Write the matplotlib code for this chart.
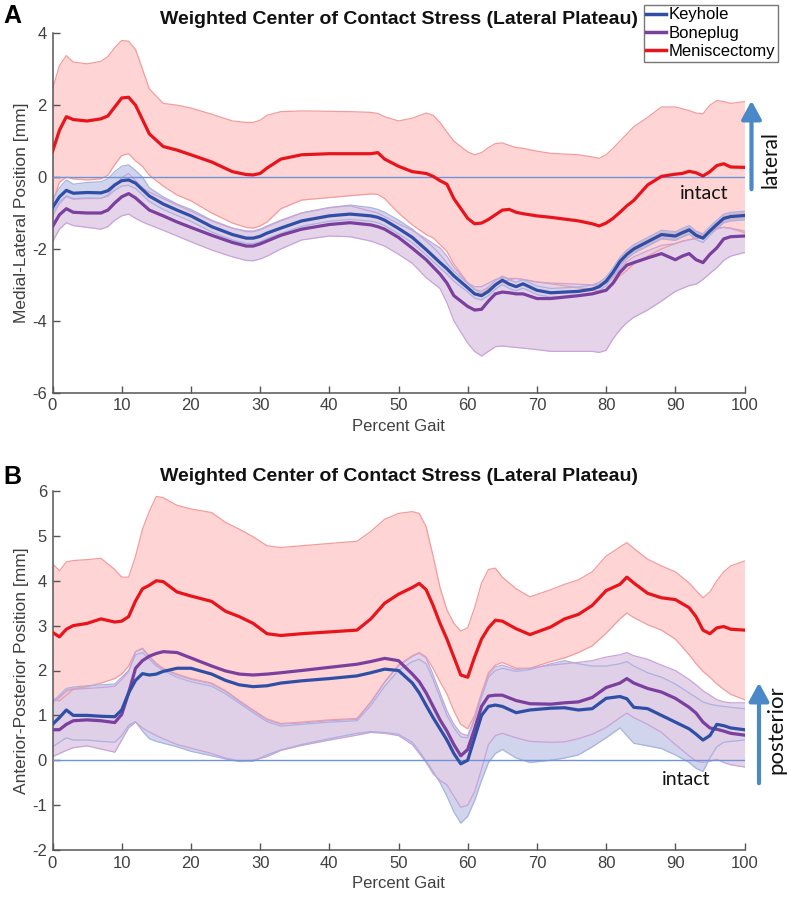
import matplotlib
matplotlib.use("Agg")
import matplotlib.pyplot as plt
from matplotlib.lines import Line2D

plt.rcParams['axes.unicode_minus'] = False
plt.rcParams['font.family'] = ['Liberation Sans', 'DejaVu Sans']

# ---------------- Panel A data (Medial-Lateral) ----------------
xa = [0, 1, 2, 3, 5, 7, 8, 9, 10, 11, 12, 13, 14, 16, 18, 20, 23, 26, 28, 29, 30, 31, 33, 36, 40, 43, 46, 47, 48, 50,
      52, 54, 55, 56, 57, 58, 60, 61, 62, 63, 64, 65, 66, 67, 68, 70, 72, 76, 78, 79, 80, 81, 82, 83, 84, 86, 88, 90,
      91, 92, 93, 94, 95, 96, 97, 98, 100]

a_men_mean = [0.71, 1.3, 1.68, 1.6, 1.56, 1.62, 1.7, 1.95, 2.2, 2.22, 2.0, 1.6, 1.2, 0.85, 0.75, 0.62, 0.42, 0.15, 0.07,
              0.06, 0.1, 0.25, 0.5, 0.62, 0.65, 0.65, 0.65, 0.68, 0.5, 0.3, 0.15, 0.1, 0.02, -0.1, -0.2, -0.6, -1.15,
              -1.3, -1.28, -1.18, -1.05, -0.92, -0.9, -0.98, -1.02, -1.08, -1.12, -1.22, -1.3, -1.36, -1.28, -1.15,
              -0.98, -0.8, -0.65, -0.22, 0.02, 0.08, 0.1, 0.16, 0.12, 0.03, 0.15, 0.32, 0.37, 0.28, 0.27]
a_men_hi = [2.45, 3.1, 3.38, 3.2, 3.15, 3.22, 3.35, 3.6, 3.8, 3.78, 3.55, 3.0, 2.45, 2.05, 2.0, 1.92, 1.75, 1.56, 1.52,
            1.52, 1.58, 1.72, 1.82, 1.84, 1.83, 1.82, 1.8, 1.77, 1.68, 1.56, 1.64, 1.78, 1.72, 1.52, 1.25, 1.0, 0.7,
            0.62, 0.68, 0.82, 0.93, 0.95, 0.88, 0.82, 0.8, 0.72, 0.66, 0.62, 0.56, 0.52, 0.62, 0.8, 1.0, 1.2, 1.4,
            1.66, 1.95, 1.95, 1.9, 1.85, 1.78, 1.76, 2.0, 2.13, 2.1, 2.05, 2.1]
a_men_lo = [-0.7, -0.15, 0.0, -0.05, -0.08, -0.05, 0.05, 0.35, 0.6, 0.65, 0.45, 0.3, 0.05, -0.25, -0.5, -0.66, -1.0,
            -1.28, -1.4, -1.42, -1.36, -1.25, -0.88, -0.64, -0.57, -0.52, -0.47, -0.48, -0.6, -1.0, -1.33, -1.6,
            -1.69, -1.88, -2.07, -2.42, -2.94, -3.12, -3.25, -3.1, -2.98, -2.92, -2.86, -2.82, -2.85, -2.92, -2.97,
            -3.08, -3.14, -3.18, -3.15, -3.0, -2.75, -2.6, -2.42, -2.2, -2.0, -1.85, -1.78, -1.74, -1.7, -1.62, -1.5,
            -1.42, -1.4, -1.43, -1.55]
a_key_mean = [-0.85, -0.55, -0.37, -0.45, -0.43, -0.44, -0.38, -0.22, -0.1, -0.08, -0.17, -0.35, -0.53, -0.75, -0.92,
              -1.08, -1.38, -1.6, -1.7, -1.7, -1.65, -1.56, -1.42, -1.22, -1.08, -1.03, -1.08, -1.12, -1.2, -1.43,
              -1.68, -2.02, -2.2, -2.38, -2.55, -2.75, -3.08, -3.25, -3.3, -3.18, -3.0, -2.87, -2.98, -3.05, -2.97,
              -3.15, -3.22, -3.18, -3.12, -3.05, -2.9, -2.65, -2.35, -2.15, -2.0, -1.8, -1.6, -1.64, -1.55, -1.47,
              -1.62, -1.7, -1.5, -1.32, -1.15, -1.1, -1.07]
a_key_hi = [-0.65, -0.3, -0.08, -0.2, -0.15, -0.13, -0.05, 0.15, 0.3, 0.34, 0.18, 0.0, -0.3, -0.55, -0.75, -0.9, -1.2,
            -1.42, -1.52, -1.52, -1.47, -1.38, -1.22, -1.0, -0.85, -0.78, -0.85, -0.9, -0.98, -1.2, -1.45, -1.78,
            -1.95, -2.15, -2.4, -2.62, -2.96, -3.13, -3.18, -3.06, -2.88, -2.75, -2.86, -2.93, -2.85, -3.03, -3.1,
            -3.06, -3.0, -2.93, -2.78, -2.53, -2.23, -2.03, -1.88, -1.68, -1.48, -1.52, -1.43, -1.35, -1.5, -1.58,
            -1.38, -1.2, -1.03, -0.98, -0.95]
a_key_lo = [-1.0, -0.7, -0.52, -0.6, -0.58, -0.59, -0.53, -0.37, -0.25, -0.23, -0.32, -0.5, -0.68, -0.9, -1.07, -1.23,
            -1.53, -1.75, -1.85, -1.85, -1.8, -1.71, -1.57, -1.37, -1.23, -1.18, -1.23, -1.27, -1.35, -1.58, -1.83,
            -2.17, -2.35, -2.53, -2.7, -2.9, -3.2, -3.37, -3.42, -3.3, -3.12, -2.99, -3.1, -3.17, -3.09, -3.27,
            -3.34, -3.3, -3.24, -3.17, -3.02, -2.77, -2.47, -2.27, -2.12, -1.92, -1.72, -1.76, -1.67, -1.59, -1.74,
            -1.82, -1.62, -1.44, -1.27, -1.22, -1.19]
a_bon_mean = [-1.38, -1.05, -0.88, -0.98, -1.0, -1.0, -0.92, -0.72, -0.55, -0.46, -0.58, -0.75, -0.92, -1.08, -1.25,
              -1.4, -1.62, -1.82, -1.92, -1.92, -1.86, -1.78, -1.62, -1.45, -1.32, -1.27, -1.33, -1.38, -1.45, -1.68,
              -1.98, -2.3, -2.5, -2.7, -2.95, -3.3, -3.6, -3.7, -3.68, -3.45, -3.25, -3.2, -3.22, -3.25, -3.25,
              -3.38, -3.38, -3.3, -3.25, -3.2, -3.15, -2.95, -2.65, -2.45, -2.38, -2.25, -2.13, -2.3, -2.2, -2.13,
              -2.3, -2.38, -2.15, -1.97, -1.72, -1.66, -1.64]
a_bon_hi = [-1.1, -0.75, -0.55, -0.62, -0.6, -0.6, -0.5, -0.25, -0.02, 0.1, -0.1, -0.3, -0.42, -0.6, -0.78, -0.95,
            -1.22, -1.42, -1.5, -1.5, -1.45, -1.36, -1.2, -1.0, -0.85, -0.8, -0.95, -1.0, -1.1, -1.3, -1.48, -1.72,
            -1.85, -1.97, -2.2, -2.5, -2.95, -3.05, -3.05, -2.95, -2.85, -2.8, -2.82, -2.82, -2.85, -2.92, -2.95,
            -2.98, -3.0, -3.0, -2.95, -2.8, -2.55, -2.35, -2.22, -2.05, -1.9, -1.85, -1.8, -1.75, -1.72, -1.68,
            -1.55, -1.45, -1.4, -1.42, -1.5]
a_bon_lo = [-1.8, -1.45, -1.27, -1.35, -1.4, -1.45, -1.38, -1.2, -1.08, -1.03, -1.15, -1.25, -1.33, -1.48, -1.64,
            -1.8, -2.03, -2.22, -2.32, -2.33, -2.28, -2.2, -2.0, -1.75, -1.64, -1.66, -1.78, -1.85, -1.92, -2.15,
            -2.4, -2.8, -2.95, -3.1, -3.5, -4.0, -4.62, -4.85, -4.98, -4.85, -4.72, -4.7, -4.72, -4.74, -4.76,
            -4.8, -4.85, -4.85, -4.85, -4.88, -4.82, -4.5, -4.25, -4.05, -3.9, -3.7, -3.45, -3.18, -3.1, -3.02,
            -2.98, -2.85, -2.68, -2.52, -2.32, -2.2, -2.1]

# ---------------- Panel B data (Anterior-Posterior) ----------------
xb = [0, 1, 2, 3, 5, 7, 9, 10, 11, 12, 13, 14, 15, 16, 18, 20, 23, 25, 27, 29, 31, 33, 36, 40, 44, 46, 48, 50, 52,
      53, 54, 55, 56, 57, 58, 59, 60, 61, 62, 63, 64, 65, 67, 69, 72, 74, 76, 78, 80, 82, 83, 84, 86, 88, 90, 92,
      93, 94, 95, 96, 97, 98, 100]

b_men_mean = [2.85, 2.75, 2.92, 3.0, 3.05, 3.15, 3.08, 3.1, 3.2, 3.55, 3.82, 3.9, 4.0, 3.98, 3.75, 3.66, 3.54, 3.32,
              3.2, 3.05, 2.82, 2.78, 2.82, 2.86, 2.9, 3.15, 3.5, 3.7, 3.85, 3.94, 3.8, 3.45, 3.05, 2.7, 2.3, 1.9,
              1.85, 2.3, 2.7, 2.95, 3.12, 3.1, 2.93, 2.8, 2.97, 3.15, 3.25, 3.45, 3.78, 3.92, 4.08, 3.95, 3.72,
              3.62, 3.58, 3.4, 3.2, 2.9, 2.82, 2.95, 2.98, 2.92, 2.9]
b_men_hi = [4.38, 4.22, 4.42, 4.45, 4.47, 4.5, 4.25, 4.08, 4.08, 4.55, 5.15, 5.55, 5.88, 5.85, 5.68, 5.6, 5.52, 5.3,
            5.15, 4.98, 4.78, 4.74, 4.78, 4.83, 4.88, 5.1, 5.37, 5.5, 5.54, 5.5, 5.2, 4.55, 3.85, 3.35, 3.05, 2.88,
            2.95, 3.4, 3.95, 4.25, 4.28, 4.08, 3.82, 3.64, 3.8, 3.92, 4.02, 4.2, 4.55, 4.75, 4.85, 4.72, 4.48,
            4.33, 4.2, 3.95, 3.78, 3.62, 3.75, 4.0, 4.2, 4.33, 4.44]
b_men_lo = [1.38, 1.32, 1.45, 1.58, 1.64, 1.72, 1.82, 1.92, 2.1, 2.42, 2.5, 2.32, 2.16, 2.05, 1.92, 1.82, 1.72, 1.55,
            1.33, 1.12, 0.92, 0.82, 0.85, 0.9, 0.93, 1.3, 1.75, 2.12, 2.33, 2.4, 2.3, 2.05, 1.75, 1.48, 1.1, 0.8,
            0.7, 1.0, 1.5, 1.95, 2.12, 2.18, 2.05, 2.05, 2.2, 2.28, 2.4, 2.55, 2.83, 3.15, 3.28, 3.18, 3.02, 2.9,
            2.7, 2.35, 2.15, 1.98, 1.85, 1.7, 1.58, 1.47, 1.35]
b_key_mean = [0.8, 0.95, 1.12, 1.0, 1.0, 0.98, 0.97, 1.12, 1.5, 1.78, 1.93, 1.9, 1.92, 1.98, 2.05, 2.05, 1.92, 1.78,
              1.68, 1.64, 1.66, 1.72, 1.77, 1.82, 1.88, 1.95, 2.03, 2.0, 1.72, 1.5, 1.22, 0.95, 0.7, 0.45, 0.15,
              -0.08, 0.0, 0.5, 1.0, 1.2, 1.23, 1.2, 1.06, 1.12, 1.16, 1.17, 1.12, 1.15, 1.38, 1.42, 1.37, 1.18,
              1.15, 1.0, 0.85, 0.7, 0.58, 0.45, 0.55, 0.8, 0.77, 0.72, 0.68]
b_key_hi = [1.3, 1.45, 1.6, 1.63, 1.66, 1.68, 1.7, 1.85, 2.0, 2.35, 2.4, 2.25, 2.1, 2.0, 1.85, 1.75, 1.65, 1.48, 1.27,
            1.06, 0.86, 0.76, 0.8, 0.85, 0.88, 1.22, 1.65, 2.0, 2.2, 2.25, 2.15, 1.8, 1.4, 1.0, 0.72, 0.52, 0.5,
            0.9, 1.4, 1.85, 2.0, 2.05, 1.98, 2.02, 2.15, 2.22, 2.15, 2.1, 2.1, 2.15, 2.2, 2.1, 1.95, 1.85, 1.7,
            1.5, 1.4, 1.3, 1.25, 1.22, 1.2, 1.18, 1.15]
b_key_lo = [0.3, 0.4, 0.5, 0.45, 0.45, 0.42, 0.4, 0.55, 0.78, 0.86, 0.65, 0.48, 0.42, 0.38, 0.3, 0.2, 0.1, 0.03,
            -0.03, -0.02, 0.12, 0.23, 0.35, 0.48, 0.6, 0.64, 0.62, 0.58, 0.4, 0.2, -0.02, -0.25, -0.5, -0.8, -1.15,
            -1.4, -1.25, -0.9, -0.45, -0.05, 0.15, 0.24, 0.05, -0.05, 0.0, 0.05, 0.12, 0.3, 0.5, 0.72, 0.55, 0.38,
            0.32, 0.26, 0.12, -0.05, -0.18, -0.25, 0.05, 0.3, 0.4, 0.42, 0.45]
b_bon_mean = [0.68, 0.68, 0.8, 0.88, 0.9, 0.88, 0.84, 1.02, 1.5, 2.05, 2.22, 2.32, 2.38, 2.42, 2.4, 2.28, 2.1, 1.99,
              1.92, 1.9, 1.92, 1.95, 2.0, 2.07, 2.14, 2.2, 2.27, 2.22, 1.92, 1.75, 1.5, 1.2, 0.9, 0.65, 0.35, 0.1,
              0.24, 0.7, 1.2, 1.43, 1.45, 1.45, 1.33, 1.26, 1.25, 1.28, 1.3, 1.4, 1.62, 1.72, 1.82, 1.72, 1.6,
              1.52, 1.38, 1.18, 1.05, 0.85, 0.72, 0.69, 0.65, 0.6, 0.56]
b_bon_hi = [1.28, 1.4, 1.55, 1.58, 1.6, 1.62, 1.65, 1.8, 1.98, 2.42, 2.48, 2.3, 2.14, 2.03, 1.9, 1.8, 1.7, 1.53, 1.31,
            1.1, 0.9, 0.8, 0.83, 0.88, 0.91, 1.28, 1.73, 2.1, 2.31, 2.38, 2.28, 1.9, 1.5, 1.1, 0.8, 0.6, 0.55, 0.95,
            1.45, 1.9, 2.08, 2.12, 2.02, 2.05, 2.12, 2.15, 2.18, 2.22, 2.3, 2.35, 2.4, 2.33, 2.25, 2.12, 2.0, 1.8,
            1.68, 1.55, 1.45, 1.35, 1.3, 1.28, 1.28]
b_bon_lo = [0.08, 0.15, 0.22, 0.28, 0.32, 0.25, 0.18, 0.45, 0.72, 0.85, 0.72, 0.63, 0.55, 0.48, 0.35, 0.27, 0.15,
            0.05, -0.02, 0.0, 0.08, 0.22, 0.33, 0.45, 0.56, 0.62, 0.6, 0.55, 0.35, 0.15, -0.05, -0.3, -0.45, -0.55,
            -0.8, -1.05, -1.0, -0.7, -0.2, 0.35, 0.55, 0.6, 0.5, 0.42, 0.4, 0.41, 0.48, 0.58, 0.73, 0.95, 1.05,
            0.95, 0.8, 0.62, 0.35, 0.1, -0.02, -0.05, -0.02, 0.02, -0.05, -0.1, -0.15]

series_names = ['Keyhole', 'Boneplug', 'Meniscectomy']
line_colors = {'Keyhole': '#2f4fa6', 'Boneplug': '#7b3f9e', 'Meniscectomy': '#e8141c'}
fill_colors = {'Keyhole': ((0.35, 0.40, 0.75), 0.28), 'Boneplug': ((226 / 255, 207 / 255, 231 / 255), 0.88),
               'Meniscectomy': ((1.0, 0.45, 0.45), 0.30)}
edge_colors = {'Keyhole': '#aab2e0', 'Boneplug': '#c8a4d8', 'Meniscectomy': '#f39c9c'}

TXT = '#404040'
fig = plt.figure(figsize=(7.89, 9.0), dpi=100)

axA = fig.add_axes([52.5 / 789, 1 - 392.7 / 900, 692 / 789, 359.4 / 900])
axB = fig.add_axes([52.5 / 789, 1 - 850 / 900, 692 / 789, 359 / 900])


def draw(ax, x, data, ylim, yticks, ylabel):
    for name in ['Meniscectomy', 'Keyhole', 'Boneplug']:
        mean, hi, lo = data[name]
        c, a = fill_colors[name]
        ax.fill_between(x, lo, hi, color=c, alpha=a, linewidth=0, zorder=1)
    for name in ['Meniscectomy', 'Keyhole', 'Boneplug']:
        mean, hi, lo = data[name]
        ax.plot(x, hi, color=edge_colors[name], lw=0.9, zorder=2)
        ax.plot(x, lo, color=edge_colors[name], lw=0.9, zorder=2)
    ax.axhline(0, color='#6f93d8', lw=1.0, zorder=3)
    for name in ['Boneplug', 'Keyhole', 'Meniscectomy']:
        mean, hi, lo = data[name]
        ax.plot(x, mean, color=line_colors[name], lw=2.3, zorder=4, solid_joinstyle='round')
    ax.set_xlim(0, 100)
    ax.set_ylim(*ylim)
    ax.set_xticks(range(0, 101, 10))
    ax.set_yticks(yticks)
    ax.set_yticklabels([str(t) for t in yticks])
    for s in ['top', 'right']:
        ax.spines[s].set_visible(False)
    for s in ['left', 'bottom']:
        ax.spines[s].set_color('#555555')
        ax.spines[s].set_linewidth(1.1)
    ax.tick_params(direction='in', length=5, width=1, colors='#555555', labelcolor=TXT, labelsize=12, pad=4)
    ax.set_xlabel('Percent Gait', fontsize=12, color=TXT, labelpad=4)
    ax.set_ylabel(ylabel, fontsize=12.5, color=TXT, labelpad=2)
    ax.set_title('Weighted Center of Contact Stress (Lateral Plateau)', fontsize=14, fontweight='bold',
                 color='#111111', pad=7)


dataA = {'Keyhole': (a_key_mean, a_key_hi, a_key_lo), 'Boneplug': (a_bon_mean, a_bon_hi, a_bon_lo),
         'Meniscectomy': (a_men_mean, a_men_hi, a_men_lo)}
dataB = {'Keyhole': (b_key_mean, b_key_hi, b_key_lo), 'Boneplug': (b_bon_mean, b_bon_hi, b_bon_lo),
         'Meniscectomy': (b_men_mean, b_men_hi, b_men_lo)}

draw(axA, xa, dataA, (-6, 4), [-6, -4, -2, 0, 2, 4], 'Medial-Lateral Position [mm]')
draw(axB, xb, dataB, (-2, 6), [-2, -1, 0, 1, 2, 3, 4, 5, 6], 'Anterior-Posterior Position [mm]')

handles = [Line2D([0], [0], color=line_colors[n], lw=2.5) for n in series_names]
leg = fig.legend(handles, series_names, loc='upper right', bbox_to_anchor=(778 / 789, 1 - 5 / 900),
                 fontsize=12, frameon=True, fancybox=False, handlelength=1.2, handletextpad=0.15,
                 borderpad=0.15, labelspacing=0.2, borderaxespad=0)
leg.get_frame().set_edgecolor('#555555')
leg.get_frame().set_linewidth(1.0)

axA.text(94.2, -0.45, 'intact', fontsize=14, family=['Lato', 'DejaVu Sans'], ha='center', va='center', color='#111111')
axB.text(91.5, -0.42, 'intact', fontsize=14, family=['Lato', 'DejaVu Sans'], ha='center', va='center', color='#111111')
fig.text(770 / 789, 1 - 160 / 900, 'lateral', rotation=90, fontsize=15, family=['Lato', 'DejaVu Sans'],
         ha='center', va='center', color='#111111')
fig.text(776 / 789, 1 - 730 / 900, 'posterior', rotation=90, fontsize=16, family=['Lato', 'DejaVu Sans'],
         ha='center', va='center', color='#111111')

arrow_color = '#4a88c8'
fig.patches.append(matplotlib.patches.FancyArrowPatch((751.5, 900 - 192), (751.5, 900 - 98),
                   transform=None, arrowstyle='-|>,head_length=0.55,head_width=0.3', mutation_scale=20,
                   lw=3.0, color=arrow_color))
fig.patches.append(matplotlib.patches.FancyArrowPatch((759, 900 - 786), (759, 900 - 680),
                   transform=None, arrowstyle='-|>,head_length=0.55,head_width=0.3', mutation_scale=20,
                   lw=3.0, color=arrow_color))

fig.text(3 / 789, 1 - 4 / 900, 'A', fontsize=18, fontweight='bold', ha='left', va='top', color='#000000')
fig.text(3 / 789, 1 - 465 / 900, 'B', fontsize=18, fontweight='bold', ha='left', va='top', color='#000000')

fig.savefig('out.png', dpi=100)
